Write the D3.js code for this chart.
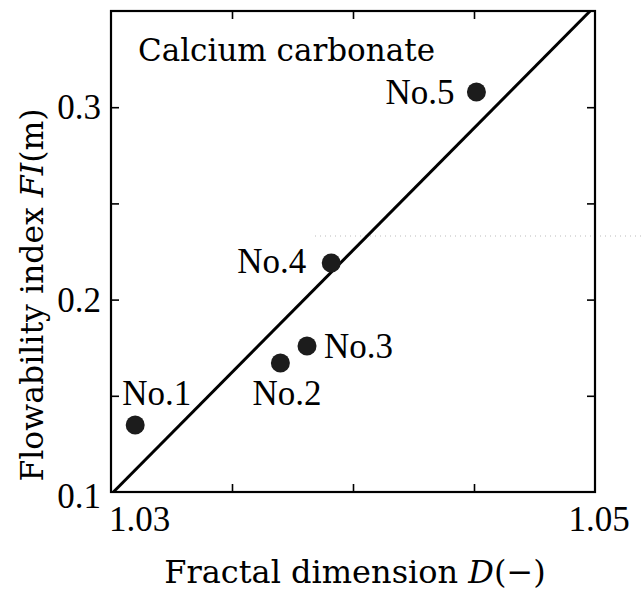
<!DOCTYPE html>
<html>
<head>
<meta charset="utf-8">
<script src="https://cdn.jsdelivr.net/npm/d3@7"></script>
<style>
  html, body { margin: 0; padding: 0; background: #fff; }
  svg { display: block; }
</style>
</head>
<body>
<svg id="chart" width="642" height="594"></svg>
<script>
// ---- data ----
const sampleNames = ["No.1", "No.2", "No.3", "No.4", "No.5"];
const fractalD = [1.0310, 1.0370, 1.0381, 1.0391, 1.0451];
const flowIndex = [0.1348, 0.1670, 0.1759, 0.2190, 0.3079];
const fitLineD = [1.0301, 1.0498];
const fitLineFI = [0.1, 0.35];
const xTickLabels = ["1.03", "1.05"];
const xTickLabelValues = [1.03, 1.05];
const xTickValues = [1.035, 1.04, 1.045];
const yTickLabels = ["0.1", "0.2", "0.3"];
const yTickLabelValues = [0.1, 0.2, 0.3];
const yTickValues = [0.15, 0.2, 0.25, 0.3];
const materialName = "Calcium carbonate";

// ---- layout ----
const svg = d3.select("#chart");
const L = 111, R = 595, T = 11, B = 492;
const x = d3.scaleLinear().domain([1.03, 1.05]).range([L, R]);
const y = d3.scaleLinear().domain([0.1, 0.35]).range([B, T]);
const numFont = "'Liberation Serif', serif";
const textFont = "'DejaVu Serif', serif";

// scan artifact dotted line
svg.append("line")
  .attr("x1", 315).attr("x2", 642).attr("y1", 236).attr("y2", 236)
  .attr("stroke", "#bbb").attr("stroke-width", 1).attr("stroke-dasharray", "1,4");

// axes with inward ticks
const tickLen = 8;
svg.append("g").attr("transform", `translate(0,${B})`)
  .call(d3.axisBottom(x).tickValues(xTickValues).tickSizeInner(-tickLen).tickSizeOuter(0).tickFormat(""));
svg.append("g").attr("transform", `translate(0,${T})`)
  .call(d3.axisTop(x).tickValues(xTickValues).tickSizeInner(-tickLen).tickSizeOuter(0).tickFormat(""));
svg.append("g").attr("transform", `translate(${L},0)`)
  .call(d3.axisLeft(y).tickValues(yTickValues).tickSizeInner(-tickLen).tickSizeOuter(0).tickFormat(""));
svg.append("g").attr("transform", `translate(${R},0)`)
  .call(d3.axisRight(y).tickValues(yTickValues).tickSizeInner(-tickLen).tickSizeOuter(0).tickFormat(""));
svg.selectAll(".domain").remove();
svg.selectAll(".tick line").attr("stroke", "#000").attr("stroke-width", 1.6);

svg.append("rect")
  .attr("x", L).attr("y", T).attr("width", R - L).attr("height", B - T)
  .attr("fill", "none").attr("stroke", "#000").attr("stroke-width", 2.2);

// tick labels
svg.selectAll(".xlab").data(xTickLabelValues).enter().append("text")
  .attr("x", (d, i) => i === 0 ? x(d) - 2 : x(d) + 4)
  .attr("y", 531)
  .attr("text-anchor", (d, i) => i === 0 ? "start" : "middle")
  .attr("font-family", numFont).attr("font-size", 35)
  .text((d, i) => xTickLabels[i]);

svg.selectAll(".ylab").data(yTickLabelValues).enter().append("text")
  .attr("x", 101)
  .attr("y", d => y(d) + (d === 0.1 ? 4 : 0))
  .attr("dy", "0.35em")
  .attr("text-anchor", "end")
  .attr("font-family", numFont).attr("font-size", 35)
  .text((d, i) => yTickLabels[i]);

// fit line
svg.append("line")
  .attr("x1", x(fitLineD[0])).attr("y1", y(fitLineFI[0]))
  .attr("x2", x(fitLineD[1])).attr("y2", y(fitLineFI[1]))
  .attr("stroke", "#000").attr("stroke-width", 3);

// points
svg.selectAll(".pt").data(fractalD).enter().append("circle")
  .attr("cx", d => x(d))
  .attr("cy", (d, i) => y(flowIndex[i]))
  .attr("r", 9.5)
  .attr("fill", "#1c1c1c");

// point labels
const labelPos = [
  {dx: -13, dy: -20},
  {dx: -28, dy: 42},
  {dx: 17, dy: 12},
  {dx: -94, dy: 10},
  {dx: -91, dy: 12}
];
svg.selectAll(".plab").data(sampleNames).enter().append("text")
  .attr("x", (d, i) => x(fractalD[i]) + labelPos[i].dx)
  .attr("y", (d, i) => y(flowIndex[i]) + labelPos[i].dy)
  .attr("text-anchor", "start")
  .attr("font-family", numFont).attr("font-size", 35)
  .text(d => d);

svg.append("text")
  .attr("x", 138).attr("y", 61)
  .attr("font-family", textFont).attr("font-size", 31)
  .text(materialName);

// axis titles
const xt = svg.append("text")
  .attr("x", 355).attr("y", 583)
  .attr("text-anchor", "middle")
  .attr("font-family", textFont).attr("font-size", 32);
xt.append("tspan").text("Fractal dimension ");
xt.append("tspan").attr("font-style", "italic").text("D");
xt.append("tspan").text("(−)");

const yt = svg.append("text")
  .attr("transform", "translate(43,295) rotate(-90)")
  .attr("text-anchor", "middle")
  .attr("font-family", textFont).attr("font-size", 31.5);
yt.append("tspan").text("Flowability index ");
yt.append("tspan").attr("font-style", "italic").text("FI");
yt.append("tspan").text("(m)");
</script>
</body>
</html>
